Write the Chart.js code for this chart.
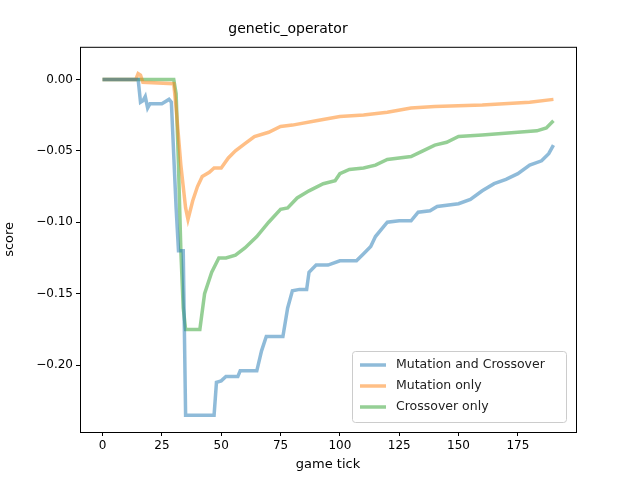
<!DOCTYPE html>
<html><head><meta charset="utf-8">
<script src="https://cdn.jsdelivr.net/npm/chart.js@4/dist/chart.umd.min.js"></script>
<style>body{margin:0;background:#fff}#wrap{width:640px;height:480px}</style>
</head><body><div id="wrap"><canvas id="c" width="640" height="480"></canvas></div>
<script>
const seriesNames = ["Mutation and Crossover", "Mutation only", "Crossover only"];
const mcX = [0,15,16,17,18,19,20,25,28,29,31,32,34,35,47,48,50,52,57,58,65,67,69,76,78,80,83,86,87,90,95,100,107,110,113,115,118,120,125,130,133,138,141,150,155,160,165,170,175,180,185,188,190];
const mcY = [0,0,-0.016,-0.015,-0.012,-0.02,-0.017,-0.017,-0.014,-0.016,-0.09,-0.12,-0.12,-0.235,-0.235,-0.212,-0.211,-0.208,-0.208,-0.204,-0.204,-0.19,-0.18,-0.18,-0.16,-0.148,-0.147,-0.147,-0.135,-0.13,-0.13,-0.127,-0.127,-0.122,-0.117,-0.11,-0.104,-0.1,-0.099,-0.099,-0.093,-0.092,-0.089,-0.087,-0.084,-0.078,-0.073,-0.07,-0.066,-0.06,-0.057,-0.052,-0.046];
const mX = [0,14,15,16,17,30,31,33,35,36,38,40,42,45,47,50,53,56,60,64,70,75,80,90,100,110,120,130,140,160,180,190];
const mY = [0,0,0.004,0.003,-0.002,-0.003,-0.02,-0.06,-0.09,-0.098,-0.085,-0.075,-0.068,-0.065,-0.062,-0.062,-0.055,-0.05,-0.045,-0.04,-0.037,-0.033,-0.032,-0.029,-0.026,-0.025,-0.023,-0.02,-0.019,-0.018,-0.016,-0.014];
const cX = [0,30,31,32,33,34,35,41,43,46,49,52,56,60,65,70,75,78,82,87,93,98,100,104,110,115,120,130,135,140,145,150,160,175,183,187,190];
const cY = [0,0,-0.01,-0.06,-0.12,-0.16,-0.175,-0.175,-0.15,-0.135,-0.125,-0.125,-0.123,-0.118,-0.11,-0.1,-0.091,-0.09,-0.083,-0.078,-0.073,-0.071,-0.066,-0.063,-0.062,-0.06,-0.056,-0.054,-0.05,-0.046,-0.044,-0.04,-0.039,-0.037,-0.036,-0.034,-0.029];
const colors = ["rgba(31,119,180,0.5)", "rgba(255,127,14,0.5)", "rgba(44,160,44,0.5)"];

const pts = (xs, ys) => xs.map((x, i) => ({ x, y: ys[i] }));
const FONT = "DejaVu Sans";

const frameAndLegend = {
  id: "frameAndLegend",
  afterDraw(chart) {
    const { ctx, chartArea: a } = chart;
    ctx.save();
    ctx.strokeStyle = "#000"; ctx.lineWidth = 1;
    ctx.strokeRect(a.left + 0.5, a.top + 0.5, a.right - a.left, a.bottom - a.top);
    // legend box, lower right
    const w = 214, h = 71, x = a.right - 10 - w, y = a.bottom - 10 - h;
    ctx.fillStyle = "rgba(255,255,255,0.8)";
    ctx.strokeStyle = "#ccc";
    ctx.beginPath(); ctx.roundRect(x + 0.5, y + 0.5, w, h, 3); ctx.fill(); ctx.stroke();
    ctx.font = "12.5px '" + FONT + "'"; ctx.textBaseline = "middle";
    seriesNames.forEach((n, i) => {
      const ly = y + 14 + i * 21;
      ctx.strokeStyle = colors[i]; ctx.lineWidth = 3.5;
      ctx.beginPath(); ctx.moveTo(x + 8, ly); ctx.lineTo(x + 34, ly); ctx.stroke();
      ctx.fillStyle = "#222"; ctx.fillText(n, x + 44, ly);
    });
    ctx.restore();
  }
};

new Chart(document.getElementById("c"), {
  type: "line",
  data: {
    datasets: [pts(mcX, mcY), pts(mX, mY), pts(cX, cY)].map((d, i) => ({
      label: seriesNames[i], data: d, borderColor: colors[i], borderWidth: 3.5,
      pointRadius: 0, tension: 0, fill: false
    }))
  },
  options: {
    responsive: false, animation: false,
    layout: { padding: { top: 0, right: 64, bottom: 0, left: 0 } },
    plugins: {
      legend: { display: false }, tooltip: { enabled: false },
      title: { display: true, text: "genetic_operator", color: "#000",
        font: { family: FONT, size: 14, weight: "normal" }, padding: { top: 21, bottom: 9 } }
    },
    scales: {
      x: { type: "linear", min: -9.5, max: 199.5,
        afterBuildTicks: s => { s.ticks = [0,25,50,75,100,125,150,175].map(v => ({ value: v })); },
        afterFit: s => { s.height = 48; },
        grid: { drawOnChartArea: false, tickLength: 4, color: "#000" }, border: { display: false },
        ticks: { color: "#000", font: { family: FONT, size: 12 }, maxRotation: 0, padding: 3 },
        title: { display: true, text: "game tick", color: "#000", font: { family: FONT, size: 13 }, padding: { top: 0, bottom: 8 } } },
      y: { min: -0.2468, max: 0.0228,
        afterBuildTicks: s => { s.ticks = [0,-0.05,-0.1,-0.15,-0.2].map(v => ({ value: v })); },
        afterFit: s => { s.width = 80; },
        grid: { drawOnChartArea: false, tickLength: 4, color: "#000" }, border: { display: false },
        ticks: { color: "#000", font: { family: FONT, size: 12 }, padding: 3,
          callback: v => v.toFixed(2).replace("-", "\u2212") },
        title: { display: true, text: "score", color: "#000", font: { family: FONT, size: 13 }, padding: 2 } }
    }
  },
  plugins: [frameAndLegend]
});
</script></body></html>
